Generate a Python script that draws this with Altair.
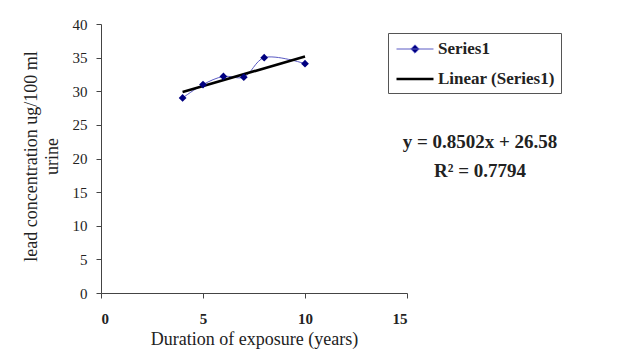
import altair as alt
import pandas as pd

# ---- data ----
years = [4, 5, 6, 7, 8, 10]
lead = [29.0, 31.0, 32.2, 32.1, 35.0, 34.1]
series_names = ["Series1", "Linear (Series1)"]
series_colors = ["#5a5ac4", "#000000"]
series_widths = [1, 2.6]
legend_paths = ["M-2,0H2M0,-0.45L0.45,0L0,0.45L-0.45,0Z", "M-2,0H2"]
x_ticks = [0, 5, 10, 15]
y_ticks = [0, 5, 10, 15, 20, 25, 30, 35, 40]
equation_lines = ["y = 0.8502x + 26.58", "R\u00b2 = 0.7794"]
x_title = "Duration of exposure (years)"
y_title = ["lead concentration ug/100 ml", "urine"]

df = pd.DataFrame({"x": years, "y": lead})
legend_df = pd.DataFrame({"series": series_names})

FONT = "Liberation Serif"
W, H = 306, 269

x_axis = alt.Axis(
    values=x_ticks, title=x_title, grid=False, labelOverlap=False,
    labelFont=FONT, labelFontSize=15, labelFontWeight="bold", labelColor="#222",
    labelPadding=13, tickSize=5, tickColor="#444", domainColor="#444",
    titleFont=FONT, titleFontSize=18, titleFontWeight="normal", titleColor="#222",
    titleBaseline="alphabetic", titleY=51, titleX=W / 2,
)
y_axis = alt.Axis(
    values=y_ticks, title=y_title, grid=False, labelOverlap=False,
    labelFont=FONT, labelFontSize=15, labelColor="#222",
    labelPadding=9, tickSize=5, tickColor="#444", domainColor="#444",
    titleFont=FONT, titleFontSize=18, titleFontWeight="normal", titleColor="#222",
    titleAngle=270, titleAlign="center", titleBaseline="alphabetic",
    titleX=-65, titleY=132, titleLineHeight=21,
)
x_scale = alt.Scale(domain=[0, 15], nice=False, zero=False)
y_scale = alt.Scale(domain=[0, 40], nice=False)


def xe():
    return alt.X("x:Q", scale=x_scale, axis=x_axis)


def ye():
    return alt.Y("y:Q", scale=y_scale, axis=y_axis)


line = alt.Chart(df).mark_line(
    color=series_colors[0], strokeWidth=1, interpolate="catmull-rom"
).encode(x=xe(), y=ye())

points = alt.Chart(df).mark_point(
    shape="diamond", filled=True, color="#000080", size=60, opacity=1
).encode(x=xe(), y=ye())

trend = alt.Chart(df).transform_regression(
    "x", "y", extent=[4, 10]
).mark_line(color="black", strokeWidth=2.6).encode(x=xe(), y=ye())

legend = alt.Legend(
    title=None, orient="none", legendX=287, legendY=9,
    strokeColor="#555", fillColor="white", padding=6,
    symbolSize=342, symbolOffset=10, labelOffset=12,
    labelFont=FONT, labelFontSize=17, labelFontWeight="bold", labelColor="#222",
    rowPadding=11,
)

legend_layer = alt.Chart(legend_df).transform_filter("false").mark_point(
    filled=False, fill="#000080", opacity=1
).encode(
    color=alt.Color("series:N", scale=alt.Scale(domain=series_names, range=series_colors), legend=legend),
    shape=alt.Shape("series:N", scale=alt.Scale(domain=series_names, range=legend_paths), legend=legend),
    strokeWidth=alt.StrokeWidth("series:N", scale=alt.Scale(domain=series_names, range=series_widths), legend=legend),
)

eq = alt.Chart(pd.DataFrame({"t": [0]})).mark_text(
    text=equation_lines, font=FONT, fontSize=19, fontWeight="bold", color="#222",
    align="center", baseline="alphabetic", lineHeight=29,
).encode(x=alt.value(379), y=alt.value(124))

chart = alt.layer(line, trend, points, legend_layer, eq).properties(
    width=W, height=H,
    autosize=alt.AutoSizeParams(type="none"),
    padding={"left": 93, "top": 16, "right": 200, "bottom": 60},
    background="white",
).configure_view(stroke=None)

chart.save("out.html", embed_options={"renderer": "svg", "actions": False})
